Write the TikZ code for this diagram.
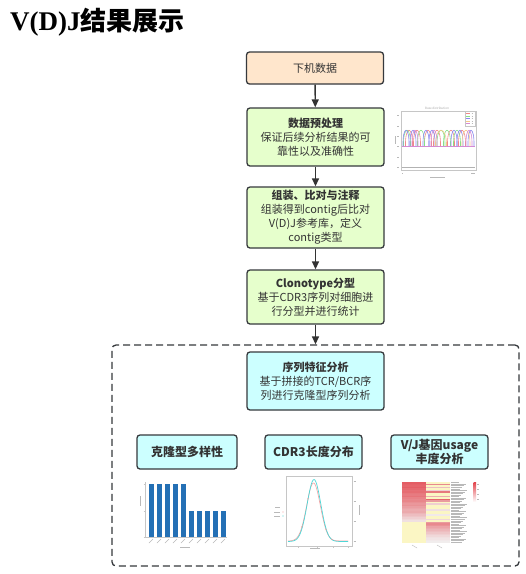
\documentclass[tikz,border=0pt]{standalone}
\usepackage{fontspec}
\setmainfont{Noto Sans CJK SC}
\newfontfamily\latserif{Liberation Serif}
\usetikzlibrary{arrows.meta}
\definecolor{bord}{HTML}{36393D}
\definecolor{txt}{HTML}{333333}
\definecolor{peach}{HTML}{FFE6CC}
\definecolor{lgreen}{HTML}{E6FFCC}
\definecolor{lcyan}{HTML}{CCFFFF}
\definecolor{barblue}{HTML}{2470B5}
\definecolor{hred}{HTML}{E2434B}
\definecolor{hyel}{HTML}{FBF6C4}
\definecolor{hbase}{HTML}{F2F2F2}
\definecolor{cred}{HTML}{F08888}
\definecolor{cgreen}{HTML}{88E088}
\definecolor{cblue}{HTML}{8888F0}
\definecolor{corange}{HTML}{F5C88A}
\definecolor{cpurple}{HTML}{D58AD5}
\definecolor{ccyan}{HTML}{4FD6D6}
\definecolor{cpink}{HTML}{F5A0A0}
\newcommand\hcell[3]{%
  \ifnum#3<0 \fill[hyel] (#1,{482+#2*1.525}) rectangle ++(24,1.6);%
  \else \fill[hred!#3!hbase] (#1,{482+#2*1.525}) rectangle ++(24,1.6);\fi}
\newcommand\bump[3]{\draw[#2, line width=0.6pt] ({#1-#3},146) .. controls ({#1-#3-0.5},125) and ({#1+#3+0.5},125) .. ({#1+#3},146);}
\tikzset{
  box/.style={draw=bord, line width=1.3pt, rounded corners=3pt, align=center,
    inner sep=2pt, text=txt, font=\fontsize{11}{14}\selectfont},
  subbox/.style={box, fill=lcyan, minimum height=34, font=\bfseries\fontsize{12}{13.5}\selectfont},
  arr/.style={draw=txt, line width=1.4pt, -{Triangle[length=8pt,width=7pt]}},
  dbox/.style={draw=bord, line width=1.3pt, dash pattern=on 7pt off 4pt, rounded corners=4pt},
  faint/.style={draw=gray!45, line width=0.4pt},
  tiny/.style={draw=gray!55, line width=0.7pt}
}
\begin{document}
\begin{tikzpicture}[x=1pt,y=-1pt]
\useasboundingbox (0,0) rectangle (526,574);
\fill[white] (0,0) rectangle (526,574);

% title
\node[anchor=base west, inner sep=0, text=black] (title) at (10,30)
  {\bfseries{\latserif\fontsize{27}{27}\selectfont V(D)J}\fontsize{26}{26}\selectfont 结果展示};

% main flow
\node[box, fill=peach, minimum width=137, minimum height=32] (b1) at (315,68) {下机数据};
\node[box, fill=lgreen, minimum width=137, minimum height=58] (b2) at (315.5,137)
  {\textbf{数据预处理}\\保证后续分析结果的可\\靠性以及准确性};
\node[box, fill=lgreen, minimum width=137, minimum height=61] (b3) at (315.5,217.5)
  {\textbf{组装、比对与注释}\\组装得到contig后比对\\V(D)J参考库，定义\\contig类型};
\node[box, fill=lgreen, minimum width=137, minimum height=54] (b4) at (315.5,297)
  {\textbf{Clonotype分型}\\基于CDR3序列对细胞进\\行分型并进行统计};

\node[dbox, minimum width=407, minimum height=221, inner sep=0] (grp) at (315.5,455.5) {};

\node[box, fill=lcyan, minimum width=137, minimum height=58] (b5) at (315.5,381)
  {\textbf{序列特征分析}\\基于拼接的TCR/BCR序\\列进行克隆型序列分析};
\node[subbox, minimum width=100] (b6) at (187,452) {克隆型多样性};
\node[subbox, minimum width=97] (b7) at (313.5,452) {CDR3长度分布};
\node[subbox, minimum width=97] (b8) at (439.5,452) {V/J基因usage\\丰度分析};

\draw[arr] (b1) -- (b2);
\draw[arr] (b2) -- (b3);
\draw[arr] (b3) -- (b4);
\draw[arr] (b4) -- (grp.north);

% ---- base distribution plot
\node[text=gray!70, font=\fontsize{3}{3}\selectfont, inner sep=0] (bdt) at (437,108.5) {Base distribution};
\draw[faint] (401,111) rectangle (476,170);
\foreach \yy in {115,126,136,146,157,167} {\draw[tiny, line width=0.4pt] (397,\yy) -- (399,\yy);}
\draw[tiny, line width=0.4pt] (395.5,136) -- (395.5,144);
\draw[tiny, line width=0.4pt] (402,173) -- (403,173);
\draw[tiny, line width=0.4pt] (471,173) -- (475,173);
\draw[tiny, line width=0.5pt] (430,177) -- (445,177);
\draw[gray!60, line width=0.6pt] (402,167) -- (475,167);
\foreach \c in {cred,cgreen,cblue,corange,cpurple} {\draw[\c, line width=0.5pt] (402,146) -- (475,146);}
\foreach \xx in {409,417,428,437,451,462} {\bump{\xx}{cred}{3.5}}
\foreach \xx in {407,421,447,457} {\bump{\xx}{cgreen}{3.5}}
\bump{441}{cgreen}{4}
\foreach \xx in {406,413,426,432,454,460,471} {\bump{\xx}{cblue}{3}}
\bump{441}{corange}{5.5}
\bump{466}{corange}{4}
\foreach \xx in {415,434,469} {\bump{\xx}{cpurple}{3}}
\fill[white] (465,111.5) rectangle (475.5,126);
\draw[faint] (465,111.5) rectangle (475.5,126);
\foreach \yy/\c in {113.5/cred,116/cgreen,118.5/cblue,121/corange,123.5/cpurple}
  {\draw[\c, line width=0.5pt] (466,\yy) -- (470,\yy); \draw[tiny, line width=0.4pt] (471.5,\yy) -- (473,\yy);}

% ---- bar chart
\draw[faint] (145,482) -- (145,537) -- (227,537);
\foreach \yy in {484,511,537} {\draw[faint] (143.5,\yy) -- (145,\yy);}
\draw[tiny, line width=0.4pt] (140,496) -- (140,506);
\foreach \i in {0,...,9} {
  \pgfmathsetmacro\xl{149+8*\i}
  \pgfmathsetmacro\top{\i<5 ? 484 : 511}
  \fill[barblue] (\xl,\top) rectangle ++(5.3,{537-\top});
  \draw[tiny, line width=0.4pt] ({\xl+4},539) -- ({\xl},543);
}
\draw[tiny, line width=0.4pt] (180,547) -- (190,547);

% ---- CDR3 length
\draw[faint] (286,476) rectangle (352,546);
\foreach \xx in {298,317,333,348} {\draw[faint] (\xx,546) -- (\xx,547.5);}
\foreach \yy in {481,501,521,541} {\draw[tiny, line width=0.4pt] (353.5,\yy) -- (355.5,\yy);}
\draw[tiny, line width=0.4pt] (359,505) -- (359,515);
\draw[tiny, line width=0.4pt] (310,548) -- (320,548);
\draw[tiny, line width=0.4pt] (275,507) -- (280,507);
\draw[tiny, line width=0.4pt] (274,512) -- (280,512);
\draw[tiny, line width=0.4pt] (274,516) -- (280,516);
\fill[cpink] (283,512) circle (0.7);
\fill[ccyan] (283,516) circle (0.7);
\draw[cpink, line width=0.6pt] plot[domain=288:348, samples=70] (\x, {541 - 58*exp(-((\x-313.5)^2)/(2*6.9^2))});
\draw[ccyan, line width=0.7pt] plot[domain=288:348, samples=70] (\x, {541.5 - 62*exp(-((\x-314)^2)/(2*6.8^2))});
\foreach \xx in {302,308,326,332,338} {\fill[cpink] (\xx,{541 - 58*exp(-((\xx-313.5)^2)/(2*6.9^2))}) circle (0.6);}

% ---- heatmap
\foreach \v [count=\i from 0] in {85,82,80,84,78,74,76,70,68,72,64,60,62,56,52,55,48,44,40,42,35,30,26,20,15,10,-1,-1,-1,-1,-1,-1,-1,-1,-1,-1,-1,-1,-1,-1}
  {\hcell{402}{\i}{\v}}
\foreach \v [count=\i from 0] in {-1,60,-1,30,-1,20,70,-1,-1,40,-1,80,50,-1,20,-1,-1,-1,10,-1,-1,5,-1,-1,15,-1,50,60,55,45,40,35,30,25,20,15,10,8,5,3}
  {\hcell{426}{\i}{\v}}
\foreach \i in {0,...,39} {
  \pgfmathsetmacro\ll{8+mod(\i*7,9)}
  \draw[gray!55, line width=0.8pt] (451,{482.8+\i*1.525}) -- ++(\ll,0);
}
\shade[top color=hred, bottom color=white] (473.5,482) rectangle (476,502);
\foreach \yy in {484,489,494,499} {\draw[tiny, line width=0.3pt] (477,\yy) -- (478.5,\yy);}
\draw[tiny, line width=0.4pt] (412,545) -- (417,548);
\draw[tiny, line width=0.4pt] (437,545) -- (442,548);
\end{tikzpicture}
\end{document}
